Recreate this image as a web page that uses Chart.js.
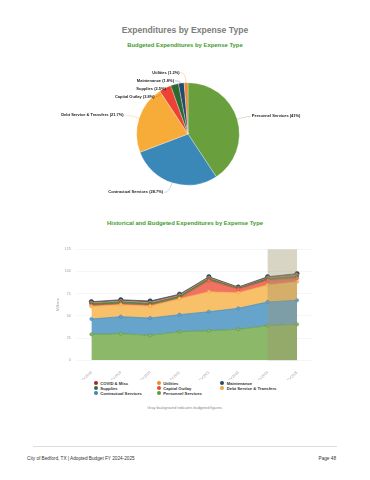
<!DOCTYPE html>
<html>
<head>
<meta charset="utf-8">
<script src="https://cdn.jsdelivr.net/npm/chart.js@4.4.0/dist/chart.umd.min.js"></script>
<style>
  body { margin: 0; background: #fff; font-family: "Liberation Sans", Arial, sans-serif; }
  #page { position: relative; width: 370px; height: 480px; overflow: hidden; }
  .abs { position: absolute; }
  .center { left: 0; width: 370px; text-align: center; }
  #title { top: 25px; line-height: 10px; font-size: 8.6px; font-weight: bold; color: #7d7d7d; }
  .sub { line-height: 8px; font-size: 5.9px; font-weight: bold; color: #3f9a2c; }
  #legend span { position: absolute; font-size: 4.2px; font-weight: bold; color: #333; line-height: 5px; white-space: nowrap; }
  #legend i { position: absolute; width: 4px; height: 4px; border-radius: 50%; }
  #note { top: 406px; line-height: 5px; font-size: 3.8px; color: #888; }
  #rule { top: 446px; left: 33px; width: 304px; height: 0; border-top: 0.6px solid #ddd; }
  .foot { top: 456px; line-height: 6px; font-size: 4.7px; color: #333; }
</style>
</head>
<body>
<div id="page">
  <div id="title" class="abs center">Expenditures by Expense Type</div>
  <div class="abs center sub" style="top:41px">Budgeted Expenditures by Expense Type</div>
  <canvas id="pie" class="abs" style="left:0;top:60px" width="370" height="148"></canvas>
  <div class="abs center sub" style="top:219px">Historical and Budgeted Expenditures by Expense Type</div>
  <canvas id="area" class="abs" style="left:0;top:240px" width="370" height="140"></canvas>
  <div id="legend" class="abs" style="left:0;top:0"></div>
  <div id="note" class="abs center">Gray background indicates budgeted figures.</div>
  <div id="rule" class="abs"></div>
  <div class="abs foot" style="left:27px">City of Bedford, TX | Adopted Budget FY 2024-2025</div>
  <div class="abs foot" style="right:34px">Page 48</div>
</div>
<script>
// pie (FY2025 budget, percent)
const pieLabels = ['Personnel Services', 'Contractual Services', 'Debt Service & Transfers',
  'Capital Outlay', 'Supplies', 'Maintenance', 'Utilities'];
const pieValues = [41, 28.7, 21.7, 3.8, 2.5, 1.8, 1.2];
const pieColors = ['#6a9f3d', '#3a88b8', '#f7ab38', '#ee4136', '#2e6a30', '#244a70', '#e98b39'];

// historical, millions
const years = ['FY2018', 'FY2019', 'FY2020', 'FY2021', 'FY2022', 'FY2023', 'FY2024', 'FY2025'];
const personnel   = [29.3, 30.0, 28.1, 32.2, 33.3, 34.9, 39.0, 40.5];
const contractual = [17.2, 19.1, 19.5, 19.2, 21.4, 23.6, 26.7, 27.1];
const debt        = [14.3, 13.5, 13.5, 18.0, 22.6, 17.6, 19.1, 20.9];
const capital     = [0.8, 0.9, 0.8, 0.5, 12.5, 3.9, 5.2, 3.8];
const supplies    = [2.0, 2.2, 2.1, 2.2, 2.2, 1.2, 2.0, 2.4];
const utilities   = [1.0, 1.0, 1.0, 1.0, 0.9, 0.5, 0.8, 1.2];
const covid       = [0, 0, 0.3, 0, 0, 0, 0, 0];
const maintenance = [1.4, 1.5, 1.5, 1.3, 1.2, 0.8, 1.3, 1.7];
const budgetFrom = 6, budgetTo = 7;
const yTicks = [0, 25, 50, 75, 100, 125];

// label layout for pie
const pieLabelPlugin = {
  id: 'pieLabels',
  afterDraw(chart) {
    const ctx = chart.ctx;
    const arcs = chart.getDatasetMeta(0).data;
    const items = arcs.map((a, i) => {
      const p = a.getProps(['x', 'y', 'startAngle', 'endAngle', 'outerRadius']);
      const mid = (p.startAngle + p.endAngle) / 2;
      const R = p.outerRadius + 10;
      return {
        i, mid, p,
        x: p.x + R * Math.cos(mid),
        y: p.y + R * Math.sin(mid),
        left: Math.cos(mid) < 0
      };
    });
    const lefts = items.filter(d => d.left).sort((a, b) => a.y - b.y);
    for (let k = 1; k < lefts.length; k++) {
      if (lefts[k].y < lefts[k - 1].y + 8) lefts[k].y = lefts[k - 1].y + 8;
    }
    ctx.save();
    ctx.font = 'bold 4px "Liberation Sans", Arial';
    ctx.textBaseline = 'middle';
    items.forEach(d => {
      const p = d.p;
      const ax = p.x + p.outerRadius * Math.cos(d.mid);
      const ay = p.y + p.outerRadius * Math.sin(d.mid);
      const tx = d.left ? d.x - 6 : d.x + 5;
      ctx.strokeStyle = pieColors[d.i];
      ctx.globalAlpha = 0.6;
      ctx.lineWidth = 0.5;
      ctx.beginPath();
      ctx.moveTo(d.left ? tx + 1 : tx - 1, d.y);
      ctx.quadraticCurveTo(d.x, d.y, ax, ay);
      ctx.stroke();
      ctx.globalAlpha = 1;
      ctx.fillStyle = '#222';
      ctx.textAlign = d.left ? 'right' : 'left';
      ctx.fillText(pieLabels[d.i] + ' (' + pieValues[d.i] + '%)', tx, d.y);
    });
    ctx.restore();
  }
};

new Chart('pie', {
  type: 'pie',
  data: {
    labels: pieLabels,
    datasets: [{ data: pieValues, backgroundColor: pieColors, borderColor: '#fff', borderWidth: 0.3 }]
  },
  options: {
    responsive: false,
    animation: false,
    layout: { padding: { left: 28, right: 22, top: 22.5, bottom: 22.5 } },
    plugins: { legend: { display: false }, tooltip: { enabled: false } }
  },
  plugins: [pieLabelPlugin]
});

// stacked areas, bottom first
const series = [
  { label: 'Personnel Services', data: personnel, line: '#5e9a38', fill: '#8cb86a' },
  { label: 'Contractual Services', data: contractual, line: '#3f86b8', fill: '#67a4cb' },
  { label: 'Debt Service & Transfers', data: debt, line: '#eea543', fill: '#f8c068' },
  { label: 'Capital Outlay', data: capital, line: '#e8463a', fill: '#f07262' },
  { label: 'Supplies', data: supplies, line: '#3d6b3a', fill: '#5d8a58' },
  { label: 'Utilities', data: utilities, line: '#e98b39', fill: '#e9a060' },
  { label: 'COVID & Misc', data: covid, line: '#9c2a32', fill: '#b04050' },
  { label: 'Maintenance', data: maintenance, line: '#2a4565', fill: '#4c6b8a' }
];

const budgetBand = {
  id: 'budgetBand',
  afterDatasetsDraw(chart) {
    const x = chart.scales.x, a = chart.chartArea, ctx = chart.ctx;
    const x0 = x.getPixelForValue(budgetFrom), x1 = x.getPixelForValue(budgetTo);
    ctx.save();
    ctx.fillStyle = 'rgba(160,150,110,0.4)';
    ctx.fillRect(x0, a.top, x1 - x0, a.bottom - a.top);
    ctx.restore();
  }
};

const last = series.length - 1;
new Chart('area', {
  type: 'line',
  data: {
    labels: years,
    datasets: series.map((s, i) => ({
      label: s.label,
      data: s.data,
      fill: i === 0 ? 'origin' : '-1',
      backgroundColor: s.fill,
      borderColor: s.line,
      borderWidth: 0.7,
      pointRadius: i === last ? 2.2 : 1.6,
      pointBackgroundColor: i === last ? s.line : s.fill,
      pointBorderColor: s.line,
      pointBorderWidth: 0.6,
      tension: 0
    }))
  },
  options: {
    responsive: false,
    animation: false,
    layout: { padding: { left: 52, right: 58.3, top: 9.3, bottom: 0 } },
    plugins: { legend: { display: false }, tooltip: { enabled: false } },
    scales: {
      x: {
        offset: true,
        grid: { display: false },
        border: { display: false },
        ticks: { color: '#999', font: { size: 3.6 }, minRotation: 45, maxRotation: 45, padding: 2 },
        afterFit: s => { s.height = 19.7; }
      },
      y: {
        stacked: true,
        min: 0, max: 125,
        afterBuildTicks: s => { s.ticks = yTicks.map(v => ({ value: v })); },
        grid: { color: '#eeeeee', lineWidth: 0.6, drawTicks: false },
        border: { display: false },
        ticks: { color: '#999', font: { size: 3.5 }, padding: 6 },
        title: { display: true, text: 'Millions', color: '#999', font: { size: 3.8 }, padding: { top: 4, bottom: 0 } },
        afterFit: s => { s.width = 24.7; }
      }
    }
  },
  plugins: [budgetBand]
});

// legend, three columns row-major
const legendOrder = ['COVID & Misc', 'Utilities', 'Maintenance', 'Supplies', 'Capital Outlay',
  'Debt Service & Transfers', 'Contractual Services', 'Personnel Services'];
const colX = [95.7, 158.7, 222.3], rowY = [383.3, 388.2, 393.1];
const leg = document.getElementById('legend');
legendOrder.forEach((name, k) => {
  const s = series.find(d => d.label === name);
  const cx = colX[k % 3], cy = rowY[Math.floor(k / 3)];
  const dot = document.createElement('i');
  dot.style.left = (cx - 2) + 'px';
  dot.style.top = (cy - 2) + 'px';
  dot.style.background = s.line;
  const t = document.createElement('span');
  t.style.left = (cx + 4.5) + 'px';
  t.style.top = (cy - 2.5) + 'px';
  t.textContent = name;
  leg.appendChild(dot);
  leg.appendChild(t);
});
</script>
</body>
</html>
